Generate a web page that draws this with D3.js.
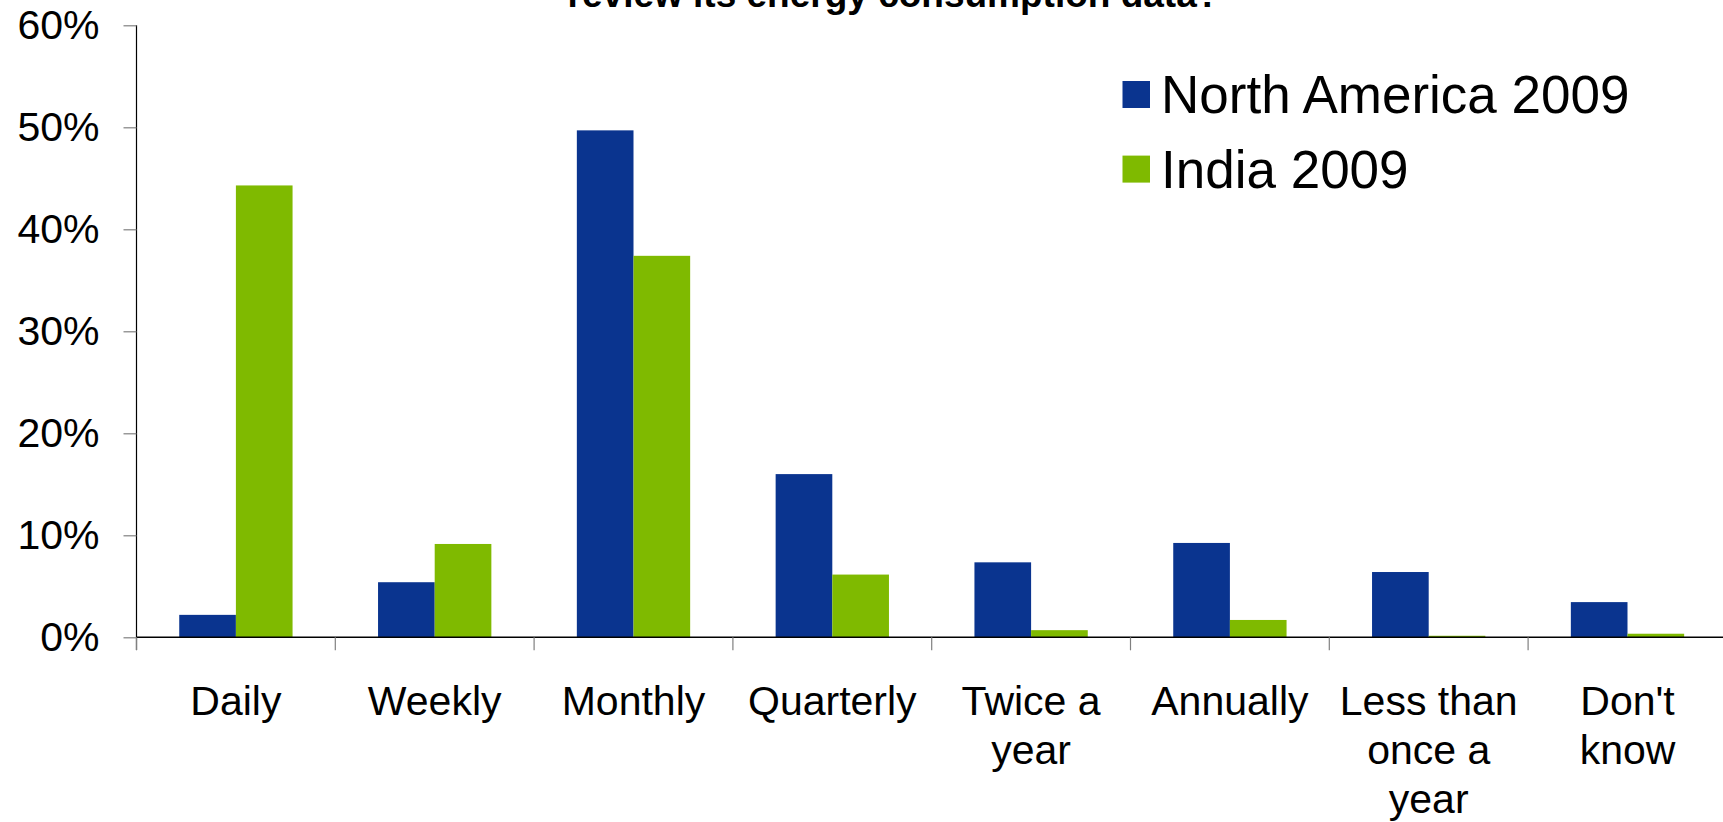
<!DOCTYPE html>
<html><head><meta charset="utf-8">
<script src="https://cdn.jsdelivr.net/npm/d3@7"></script>
<style>body{margin:0;background:#fff;}svg{display:block;}text{font-family:"Liberation Sans",Arial,sans-serif;}</style>
</head><body>
<svg id="c" width="1723" height="822"></svg>
<script>
const categories = [["Daily"],["Weekly"],["Monthly"],["Quarterly"],["Twice a","year"],["Annually"],["Less than","once a","year"],["Don't","know"]];
const seriesNames = ["North America 2009","India 2009"];
const northAmerica = [2.2, 5.4, 49.7, 16.0, 7.35, 9.25, 6.4, 3.45];
const india = [44.3, 9.15, 37.4, 6.15, 0.7, 1.7, 0.15, 0.35];
const yTicks = [0,10,20,30,40,50,60];
const colors = ["#0a348f","#7fba00"];
const titleText = "review its energy consumption data?";

const svg = d3.select("#c");
const keys = categories.map(c => c.join(" "));
const x = d3.scaleBand().domain(keys).range([136.5, 1726.9]).padding(0);
const bw = x.bandwidth();
const xs = d3.scaleBand().domain(seriesNames).range([bw*0.215, bw*0.785]).padding(0);
const y = d3.scaleLinear().domain([0,60]).range([637.3, 25.3]);

// title (partially cut off at the top, as in the reference)
svg.append("text").attr("x", 893.5).attr("y", 7).attr("text-anchor","middle")
  .attr("font-size", 37).attr("font-weight","bold").attr("fill","#000").text(titleText);

// bars
const data = [northAmerica, india];
data.forEach((vals, si) => {
  svg.append("g").selectAll("rect").data(vals).join("rect")
    .attr("x", (d,i) => x(keys[i]) + xs(seriesNames[si]))
    .attr("width", xs.bandwidth())
    .attr("y", d => y(d))
    .attr("height", d => y(0) - y(d))
    .attr("fill", colors[si]);
});

// y axis
const yAxis = d3.axisLeft(y).tickValues(yTicks).tickFormat(d => d + "%").tickSize(13).tickPadding(24);
const gy = svg.append("g").attr("transform","translate(136.5,0)").call(yAxis);
gy.select(".domain").attr("stroke","#000").attr("stroke-width",1.2).attr("d","M0,25.3V650");
gy.selectAll(".tick line").attr("stroke","#808080").attr("stroke-width",1.2);
gy.selectAll(".tick text").attr("font-size",41).attr("fill","#000").attr("font-family","'Liberation Sans',Arial,sans-serif");

// x axis
const xAxis = d3.axisBottom(x).tickSize(0).tickFormat("");
const gx = svg.append("g").attr("transform",`translate(0,${y(0)})`).call(xAxis);
gx.select(".domain").attr("stroke","#000").attr("stroke-width",1.5).attr("d","M136.5,0H1723");
gx.selectAll(".tick").remove();
gx.selectAll("line.sep").data(keys).join("line").attr("class","sep")
  .attr("x1", d => x(d)).attr("x2", d => x(d)).attr("y1",0).attr("y2",13)
  .attr("stroke","#808080").attr("stroke-width",1.2);
const lab = svg.append("g").selectAll("text").data(categories).join("text")
  .attr("text-anchor","middle").attr("font-size",41).attr("fill","#000")
  .attr("x", (d,i) => x(keys[i]) + bw/2).attr("y", 715);
lab.selectAll("tspan").data(d => d).join("tspan")
  .attr("x", function(){ return this.parentNode.getAttribute("x"); })
  .attr("dy", (d,i) => i === 0 ? 0 : 49).text(d => d);

// legend
const lg = svg.append("g");
seriesNames.forEach((s, i) => {
  const cy = 94.5 + i*74.6;
  lg.append("rect").attr("x",1122.5).attr("y",cy-13.5).attr("width",27.5).attr("height",27).attr("fill",colors[i]);
  lg.append("text").attr("x",1161).attr("y",cy+18.5).attr("font-size",53).attr("fill","#000").text(s);
});
</script>
</body></html>
